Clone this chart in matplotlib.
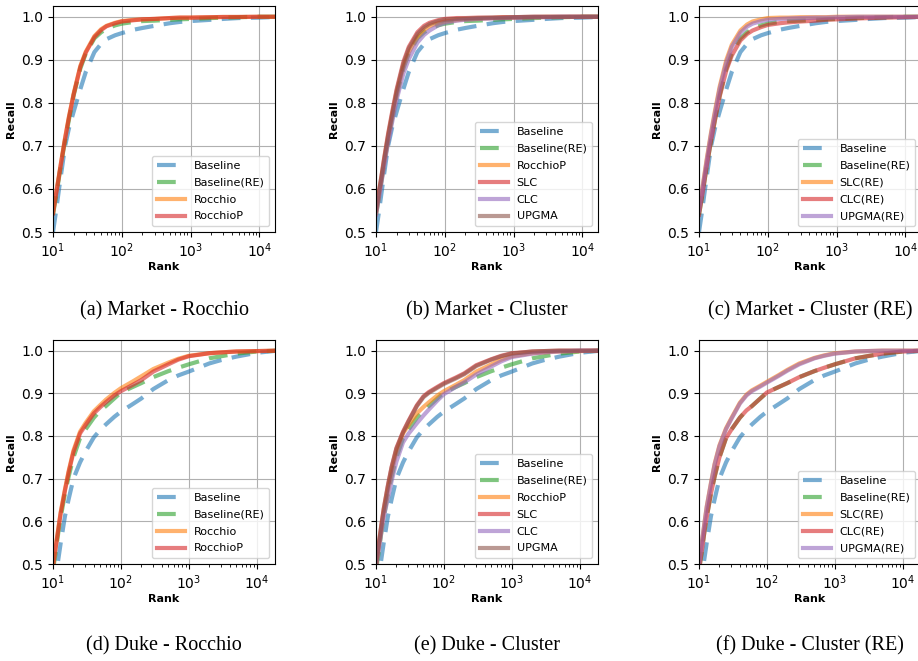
import matplotlib
matplotlib.use("Agg")
import matplotlib.pyplot as plt

ranks = [10, 11, 12, 13, 15, 17, 20, 25, 30, 40, 50, 60, 80, 100, 150, 200, 300, 500, 700,
         1000, 2000, 3000, 5000, 10000, 20000]

# Market
mk_base     = [0.500, 0.545, 0.590, 0.630, 0.700, 0.740, 0.780, 0.832, 0.872, 0.918, 0.937, 0.948, 0.957, 0.962,
               0.970, 0.974, 0.979, 0.985, 0.988, 0.990, 0.993, 0.995, 0.997, 0.998, 1.000]
mk_base_re  = [0.540, 0.580, 0.618, 0.655, 0.713, 0.760, 0.818, 0.880, 0.915, 0.950, 0.964, 0.972, 0.980, 0.984,
               0.988, 0.990, 0.991, 0.993, 0.994, 0.995, 0.997, 0.998, 0.999, 1.000, 1.000]
mk_rocchio  = [0.545, 0.587, 0.624, 0.659, 0.719, 0.767, 0.822, 0.886, 0.919, 0.955, 0.971, 0.979, 0.986, 0.990,
               0.993, 0.994, 0.995, 0.997, 0.998, 0.998, 0.999, 0.9995, 0.9995, 1.000, 1.000]
mk_rocchiop = [0.543, 0.585, 0.622, 0.657, 0.717, 0.765, 0.820, 0.884, 0.917, 0.953, 0.969, 0.978, 0.985, 0.989,
               0.992, 0.994, 0.995, 0.997, 0.998, 0.998, 0.999, 0.9995, 0.9995, 1.000, 1.000]
mk_slc      = [0.550, 0.592, 0.630, 0.667, 0.728, 0.775, 0.832, 0.895, 0.930, 0.964, 0.979, 0.986, 0.992, 0.995,
               0.997, 0.997, 0.998, 0.998, 0.999, 0.999, 1.000, 1.000, 1.000, 1.000, 1.000]
mk_clc      = [0.540, 0.578, 0.615, 0.650, 0.708, 0.752, 0.808, 0.868, 0.902, 0.940, 0.958, 0.968, 0.980, 0.986,
               0.991, 0.993, 0.995, 0.996, 0.997, 0.998, 0.999, 0.999, 1.000, 1.000, 1.000]
mk_upgma    = [0.550, 0.590, 0.628, 0.664, 0.724, 0.770, 0.828, 0.890, 0.926, 0.960, 0.975, 0.983, 0.990, 0.993,
               0.995, 0.996, 0.997, 0.998, 0.998, 0.999, 1.000, 1.000, 1.000, 1.000, 1.000]
mk_slc_re   = [0.552, 0.595, 0.634, 0.671, 0.732, 0.780, 0.838, 0.900, 0.935, 0.968, 0.982, 0.989, 0.994, 0.997,
               0.998, 0.998, 0.999, 0.999, 0.999, 1.000, 1.000, 1.000, 1.000, 1.000, 1.000]
mk_clc_re   = [0.540, 0.580, 0.618, 0.655, 0.713, 0.758, 0.815, 0.876, 0.910, 0.945, 0.960, 0.968, 0.976, 0.981,
               0.985, 0.987, 0.989, 0.991, 0.993, 0.994, 0.996, 0.997, 0.998, 0.999, 1.000]
mk_upgma_re = [0.550, 0.592, 0.630, 0.667, 0.728, 0.775, 0.833, 0.894, 0.930, 0.963, 0.977, 0.984, 0.990, 0.993,
               0.995, 0.996, 0.997, 0.998, 0.998, 0.999, 1.000, 1.000, 1.000, 1.000, 1.000]

# Duke
dk_base     = [0.440, 0.472, 0.512, 0.550, 0.612, 0.652, 0.700, 0.738, 0.763, 0.797, 0.815, 0.827, 0.845, 0.857,
               0.875, 0.888, 0.910, 0.931, 0.942, 0.951, 0.970, 0.978, 0.986, 0.995, 1.000]
dk_base_re  = [0.485, 0.530, 0.575, 0.610, 0.665, 0.705, 0.750, 0.795, 0.815, 0.843, 0.860, 0.870, 0.888, 0.902,
               0.915, 0.924, 0.938, 0.952, 0.960, 0.968, 0.982, 0.987, 0.993, 0.998, 1.000]
dk_rocchio  = [0.495, 0.542, 0.585, 0.622, 0.675, 0.718, 0.766, 0.810, 0.830, 0.858, 0.873, 0.885, 0.901, 0.912,
               0.928, 0.940, 0.957, 0.972, 0.981, 0.988, 0.994, 0.996, 0.998, 0.999, 1.000]
dk_rocchiop = [0.495, 0.540, 0.582, 0.620, 0.672, 0.715, 0.762, 0.806, 0.825, 0.853, 0.868, 0.879, 0.895, 0.905,
               0.920, 0.931, 0.951, 0.968, 0.979, 0.987, 0.994, 0.996, 0.998, 0.999, 1.000]
dk_slc      = [0.500, 0.548, 0.592, 0.630, 0.685, 0.728, 0.772, 0.810, 0.835, 0.872, 0.893, 0.903, 0.915, 0.924,
               0.937, 0.947, 0.966, 0.980, 0.988, 0.994, 0.998, 0.999, 1.000, 1.000, 1.000]
dk_clc      = [0.495, 0.535, 0.575, 0.610, 0.655, 0.695, 0.740, 0.785, 0.805, 0.830, 0.848, 0.862, 0.883, 0.898,
               0.915, 0.926, 0.944, 0.963, 0.975, 0.985, 0.993, 0.996, 0.998, 1.000, 1.000]
dk_upgma    = [0.498, 0.546, 0.590, 0.628, 0.683, 0.726, 0.770, 0.808, 0.833, 0.870, 0.891, 0.901, 0.913, 0.922,
               0.935, 0.945, 0.964, 0.979, 0.987, 0.993, 0.998, 0.999, 1.000, 1.000, 1.000]
dk_slc_re   = [0.500, 0.550, 0.595, 0.635, 0.690, 0.735, 0.778, 0.818, 0.842, 0.878, 0.897, 0.907, 0.918, 0.927,
               0.943, 0.955, 0.970, 0.983, 0.989, 0.994, 0.998, 0.999, 1.000, 1.000, 1.000]
dk_clc_re   = dk_base_re
dk_upgma_re = [0.498, 0.548, 0.593, 0.633, 0.688, 0.733, 0.776, 0.816, 0.840, 0.876, 0.895, 0.905, 0.916, 0.925,
               0.941, 0.953, 0.968, 0.982, 0.988, 0.993, 0.998, 0.999, 1.000, 1.000, 1.000]

# tab10 colours in the order the original assigns them
C0, C1, C2, C3, C4, C5 = "tab:blue", "tab:orange", "tab:green", "tab:red", "tab:purple", "tab:brown"

panels = [
    ("(a) Market - Rocchio", [("Baseline", mk_base, C0), ("Baseline(RE)", mk_base_re, C2),
                              ("Rocchio", mk_rocchio, C1), ("RocchioP", mk_rocchiop, C3)], 16900),
    ("(b) Market - Cluster", [("Baseline", mk_base, C0), ("Baseline(RE)", mk_base_re, C2),
                              ("RocchioP", mk_rocchiop, C1), ("SLC", mk_slc, C3),
                              ("CLC", mk_clc, C4), ("UPGMA", mk_upgma, C5)], 16900),
    ("(c) Market - Cluster (RE)", [("Baseline", mk_base, C0), ("Baseline(RE)", mk_base_re, C2),
                                   ("SLC(RE)", mk_slc_re, C1), ("CLC(RE)", mk_clc_re, C3),
                                   ("UPGMA(RE)", mk_upgma_re, C4)], 16900),
    ("(d) Duke - Rocchio", [("Baseline", dk_base, C0), ("Baseline(RE)", dk_base_re, C2),
                            ("Rocchio", dk_rocchio, C1), ("RocchioP", dk_rocchiop, C3)], 18600),
    ("(e) Duke - Cluster", [("Baseline", dk_base, C0), ("Baseline(RE)", dk_base_re, C2),
                            ("RocchioP", dk_rocchiop, C1), ("SLC", dk_slc, C3),
                            ("CLC", dk_clc, C4), ("UPGMA", dk_upgma, C5)], 18600),
    ("(f) Duke - Cluster (RE)", [("Baseline", dk_base, C0), ("Baseline(RE)", dk_base_re, C2),
                                 ("SLC(RE)", dk_slc_re, C1), ("CLC(RE)", dk_clc_re, C3),
                                 ("UPGMA(RE)", dk_upgma_re, C4)], 18600),
]

W, H = 918, 661
fig = plt.figure(figsize=(W/100, H/100), dpi=100)

lefts = [53, 376, 699]
rows = [(6, 232, 311), (340, 564, 646)]   # top px, bottom px, caption y px

for i, (caption, series, xmax) in enumerate(panels):
    top, bot, cap_y = rows[i // 3]
    left = lefts[i % 3]
    ax = fig.add_axes([left/W, 1 - bot/H, 222/W, (bot - top)/H])
    for name, vals, col in series:
        if name.startswith("Baseline"):
            ax.plot(ranks, vals, "--", dashes=(4.5, 2.5), color=col, lw=3, alpha=0.6, label=name)
        else:
            ax.plot(ranks, vals, "-", color=col, lw=3, alpha=0.6, label=name)
    ax.set_xscale("log")
    ax.set_xlim(10, xmax)
    ax.set_ylim(0.5, 1.025)
    ax.set_yticks([0.5, 0.6, 0.7, 0.8, 0.9, 1.0])
    ax.grid(True)
    ax.tick_params(labelsize=10)
    ax.set_xlabel("Rank", fontsize=8, fontweight="bold", labelpad=1)
    ax.set_ylabel("Recall", fontsize=8, fontweight="bold")
    ax.legend(loc="lower right", fontsize=8, handlelength=2.5,
              labelspacing=0.62, borderpad=0.45)
    cx = (left + 111) / W
    fig.text(cx, 1 - cap_y/H, caption, ha="center", va="center",
             family="Liberation Serif", fontsize=14.5)

fig.savefig("out.png", dpi=100)
